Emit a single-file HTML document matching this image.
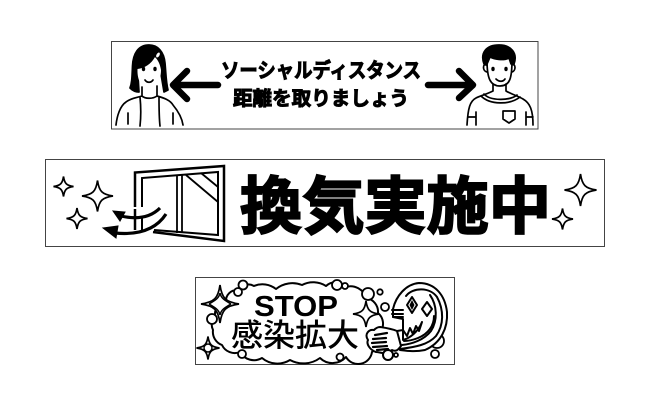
<!DOCTYPE html>
<html><head><meta charset="utf-8"><style>
html,body{margin:0;padding:0;background:#fff;width:650px;height:407px;overflow:hidden}
svg{display:block}
text{fill:#000}
.j{font-family:"Liberation Sans","Noto Sans CJK JP",sans-serif;font-weight:700}
</style></head><body>
<svg width="650" height="407" viewBox="0 0 650 407" xmlns="http://www.w3.org/2000/svg">
<defs>
<path id="sp" d="M0-10C1-3 3-1 10 0C3 1 1 3 0 10C-1 3-3 1-10 0C-3-1-1-3 0-10Z" fill="#fff" stroke="#000" stroke-width="1.700" vector-effect="non-scaling-stroke" stroke-linejoin="miter"/>
</defs>
<g fill="none" stroke="#444" stroke-width="1">
<rect x="111.5" y="41.5" width="426.5" height="87.5"/>
<rect x="45.5" y="159.5" width="559" height="87"/>
<rect x="195.5" y="277.5" width="259" height="87"/>
</g>

<!-- banner 1 text -->
<text class="j" x="221" y="77.500" font-size="20.500" textLength="200" lengthAdjust="spacingAndGlyphs" stroke="#000" stroke-width="1">ソーシャルディスタンス</text>
<text class="j" x="233" y="105" font-size="19.500" textLength="176" lengthAdjust="spacingAndGlyphs" stroke="#000" stroke-width="1">距離を取りましょう</text>

<!-- arrows -->
<g fill="none" stroke="#000" stroke-width="6.500" stroke-linecap="round" stroke-linejoin="round">
<path d="M218 85H176M187 71L173 85L187 99"/>
<path d="M428 85H472M459 71L473 85L459 98"/>
</g>

<!-- woman -->
<g fill="none" stroke="#000" stroke-width="1.700" stroke-linecap="round" stroke-linejoin="round">
<path fill="#000" d="M149 45C138 45 133 54 132.500 66C132 77 132 83 130 88C133 91 136 92 139 92L138 76C146 72 152 66 155 58C159 63 161 68 161 74L164 92L168 90C166 82 166 74 165 63C164 52 158 45 149 45Z"/>
<path fill="#fff" stroke="none" d="M137.500 69C137 81 142 88 149 88C156 88 161 81 161 70C160 64 158 60 155 57C151 64 145 68 137.500 69Z"/>
<path d="M142 87V96C136 98 131 98 126 102C120 106 117 116 116 125M157 86V96C164 98 170 100 173 105C178 111 182 118 183 125M142 96C145 99 153 99 157 96M140 97C141 107 141 117 140 126M159 97C159 107 159 117 160 126M128 113V124M173 113V124"/>
<path d="M145 80C147 83 151 83 153 80"/>
</g>
<ellipse cx="143.500" cy="69" rx="1.700" ry="2.200"/>
<ellipse cx="155" cy="69" rx="1.700" ry="2.200"/>
<ellipse cx="158" cy="55" rx="2" ry="3.200" fill="#fff" stroke="#000" transform="rotate(30 158 55)"/>

<!-- man -->
<g fill="none" stroke="#000" stroke-width="1.700" stroke-linecap="round" stroke-linejoin="round">
<path fill="#000" d="M484 64C480 53 486 45 499 45C511 45 518 53 514 64L511 64L509 58C503 61 494 59 490 57L487 64Z"/>
<path d="M487 60C487 78 490 86 500 86C510 86 512 78 512 60M486 65C483 63 482 71 487 72M512 65C516 63 516 71 512 72"/>
<path d="M493 84V91C487 94 480 96 476 98C470 101 468 108 467 125M506 84V91C511 94 518 96 523 99C530 103 533 110 533 125M484 94C490 101 510 101 517 95M481 96C490 105 510 105 520 97M476 112V125M526 112V125M468 117H476M526 117H533M503 111H515V119L509 123L503 119Z"/>
<path d="M496 79C499 82 503 82 505 79"/>
</g>
<ellipse cx="493" cy="69" rx="1.700" ry="2.200"/>
<ellipse cx="506" cy="69" rx="1.700" ry="2.200"/>

<!-- banner 2 text -->
<text class="j" x="240" y="228" font-size="62" textLength="311" lengthAdjust="spacingAndGlyphs" stroke="#000" stroke-width="2">換気実施中</text>

<!-- sparkles -->
<use href="#sp" transform="translate(63.500 186.500) scale(1)"/>
<use href="#sp" transform="translate(97.500 196) scale(1.550)"/>
<use href="#sp" transform="translate(77 218.500) scale(1.050)"/>
<use href="#sp" transform="translate(580.500 190) scale(1.600)"/>
<use href="#sp" transform="translate(562.500 219) scale(1.050)"/>

<!-- window -->
<g fill="none" stroke="#000" stroke-linecap="butt" stroke-linejoin="miter">
<path stroke-width="2.500" d="M135 207V172.500L224 166V241L153 232"/>
<path stroke-width="2.500" d="M135 209V230"/>
<path stroke-width="2" d="M142 207V178L218 172V235L154 230M142 216V232"/>
<path stroke-width="1.800" d="M177 175V233M182 175V233M186 175L218 202M201 173L218 187"/>
<path stroke-width="3.200" d="M160 208C149 219 134 219 121 216M166 214C155 231 136 235 115 233"/>
</g>
<path d="M113 211L125 212L120 221Z" stroke="#000" fill="#000"/>
<path d="M103 228L118 226L116 238Z" stroke="#000" fill="#000"/>

<!-- banner 3 cloud -->
<path fill="#fff" stroke="#000" stroke-width="2" stroke-linejoin="round" d="M226 302A11 11 0 0 1 238 290A12 12 0 0 1 254 286A22 22 0 0 1 276 289A26 26 0 0 1 302 285A24 24 0 0 1 326 286A14 14 0 0 1 346 287A16 16 0 0 1 366 298A14 14 0 0 1 378 313A14 14 0 0 1 381 331A20 20 0 0 1 372 352A14 14 0 0 1 346 357A18 18 0 0 1 320 358A28 28 0 0 1 290 360A24 24 0 0 1 262 358A16 16 0 0 1 240 352A14 14 0 0 1 222 345A14 14 0 0 1 213 330A14 14 0 0 1 215 315A12 12 0 0 1 226 302Z"/>
<g fill="#fff" stroke="#000" stroke-width="1.800">
<circle cx="243" cy="285" r="4.500"/>
<circle cx="238" cy="292" r="4"/>
<circle cx="212" cy="319" r="5"/>
<circle cx="242" cy="354" r="4"/>
<circle cx="337" cy="285" r="5"/><circle cx="345" cy="286" r="3"/>
<circle cx="368" cy="294" r="6"/>
<circle cx="380" cy="292" r="2.700"/>
<circle cx="385" cy="307" r="4"/>
<circle cx="437" cy="341" r="7"/>
<circle cx="435" cy="354" r="4"/>
<circle cx="396" cy="355" r="2"/>
<circle cx="340" cy="357" r="3.500"/>
</g>
<use href="#sp" transform="translate(220 304) scale(1.900)"/>
<use href="#sp" transform="translate(208 348) scale(1.150)"/>
<use href="#sp" transform="translate(366 314) scale(1.300)"/>
<g fill="none" stroke="#000" stroke-width="1.500"><path d="M209 304C216 300 219 298 220 293M231 304C224 300 221 298 220 293M209 304C216 308 219 310 220 315M231 304C224 308 221 310 220 315"/><circle cx="208" cy="348" r="4"/></g>
<text x="254" y="316" font-family="'Liberation Sans',sans-serif" font-weight="700" font-size="29" textLength="84" lengthAdjust="spacingAndGlyphs">STOP</text>
<text x="231" y="346" font-family="'Noto Sans CJK JP',sans-serif" font-weight="500" font-size="31.500" textLength="128" lengthAdjust="spacingAndGlyphs">感染拡大</text>

<!-- creature -->
<g fill="none" stroke="#000" stroke-width="2" stroke-linecap="round" stroke-linejoin="round">
<path fill="#fff" d="M393 309C396 296 406 284 419 283C435 283 445 295 447 312C448 328 441 343 425 350C415 352 408 351 400 350L397 331L403 330L403 319L393 317Z"/>
<path d="M406 296C413 287 430 287 437 297C444 310 444 325 436 336C428 345 415 347 400 349"/>
<path d="M430 295C437 305 438 320 431 331C424 340 412 344 402 345"/>
<path d="M434 316C434 326 428 334 418 338C413 340 408 341 404 341"/>
<path d="M392 310H403M392 314H403M393 317H403"/>
<path fill="#fff" d="M403 330L407 336L410 328L413 334L416 326L419 331L422 322C418 332 410 338 403 340Z"/>
<path fill="#fff" d="M412 297L417 305L412 313L407 305Z"/>
<path fill="#000" stroke="none" d="M412 300L414.500 305L412 310L409.500 305Z"/>
<path fill="#fff" d="M427 302L432 309L427 316L422 309Z"/>
<path fill="#fff" d="M380 327C387 328 392 329 397 331L401 346C398 350 396 352 392 350C387 356 381 352 376 352C370 350 366 344 368 340C364 334 369 329 374 330C376 328 378 327 380 327Z"/>
<path stroke-width="2.200" d="M375 335L387 333M373 339L386 338M372 343L386 342M373 347L387 346M377 350L388 349"/>
<circle cx="388" cy="355" r="5" fill="#fff"/>
</g>
</svg>
</body></html>
